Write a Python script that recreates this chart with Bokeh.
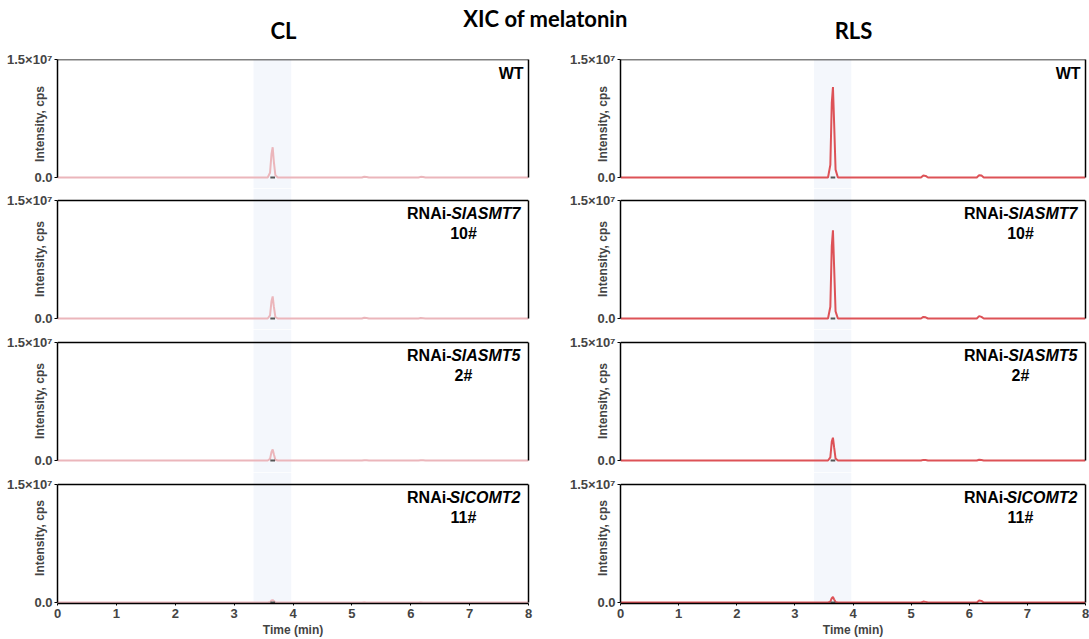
from bokeh.plotting import figure
from bokeh.models import Range1d, FixedTicker, LinearAxis, BoxAnnotation, Span
from bokeh.layouts import gridplot, column
from bokeh.core.properties import value
from bokeh.embed import file_html
from bokeh.resources import INLINE

# ---------------- data ----------------
time_min = [0.00, 3.57, 3.61, 3.635, 3.655, 3.675, 3.70, 3.74,
            5.17, 5.21, 5.25, 5.29, 6.13, 6.17, 6.21, 6.25, 8.00]

CL_WT     = [0, 0, 0.6e6, 3.0e6, 3.85e6, 2.0e6, 0.30e6, 0, 0, 0.10e6, 0.06e6, 0, 0, 0.08e6, 0.06e6, 0, 0]
CL_ASMT7  = [0, 0, 0.4e6, 2.2e6, 2.80e6, 1.5e6, 0.20e6, 0, 0, 0.10e6, 0.05e6, 0, 0, 0.06e6, 0.04e6, 0, 0]
CL_ASMT5  = [0, 0, 0.2e6, 1.1e6, 1.40e6, 0.8e6, 0.10e6, 0, 0, 0.04e6, 0.02e6, 0, 0, 0.03e6, 0.02e6, 0, 0]
CL_COMT2  = [0, 0, 0.05e6, 0.25e6, 0.30e6, 0.18e6, 0.03e6, 0, 0, 0.02e6, 0.01e6, 0, 0, 0.02e6, 0.01e6, 0, 0]
RLS_WT    = [0, 0, 1.6e6, 9.5e6, 11.5e6, 7.0e6, 1.0e6, 0, 0, 0.25e6, 0.20e6, 0, 0, 0.30e6, 0.25e6, 0, 0]
RLS_ASMT7 = [0, 0, 1.5e6, 9.2e6, 11.2e6, 6.6e6, 0.9e6, 0, 0, 0.20e6, 0.15e6, 0, 0, 0.30e6, 0.20e6, 0, 0]
RLS_ASMT5 = [0, 0, 0.4e6, 2.4e6, 2.90e6, 1.7e6, 0.25e6, 0, 0, 0.08e6, 0.05e6, 0, 0, 0.10e6, 0.06e6, 0, 0]
RLS_COMT2 = [0, 0, 0.1e6, 0.55e6, 0.70e6, 0.4e6, 0.06e6, 0, 0, 0.12e6, 0.08e6, 0, 0, 0.25e6, 0.20e6, 0, 0]

# integration baseline mark under the melatonin peak
peak_base_start = [3.615]
peak_base_end = [3.695]
peak_base_y = [0]

# shaded retention window
window_start = 3.33
window_end = 3.97

x_ticks = [0, 1, 2, 3, 4, 5, 6, 7, 8]
y_ticks = [0, 15000000]
y_tick_labels = {0: "0.0", 15000000: "1.5×10⁷"}
X_MAX = 8
Y_MAX = 15000000

column_titles = ["CL", "RLS"]
main_title = "XIC of melatonin"
line1_plain = ["WT", "RNAi-", "RNAi-", "RNAi-"]
line1_italic = ["", "SlASMT7", "SlASMT5", "SlCOMT2"]
line2 = ["", "10#", "2#", "11#"]

series = [[CL_WT, RLS_WT], [CL_ASMT7, RLS_ASMT7], [CL_ASMT5, RLS_ASMT5], [CL_COMT2, RLS_COMT2]]
colors = ["#ebb6bb", "#dd5257"]

# ---------------- layout ----------------
FONT = "Liberation Sans"
frame_w = [471, 465]
border_r = [35, 4]
# (gap above panel, panel height, gap below panel) in px
rows_px = [(0, 118, 11), (12, 118, 11), (13, 118, 12), (12, 118, 1)]
border_top = [14, 0, 0, 0]
border_bottom = [0, 0, 0, 36]
ITALIC_W = 69
LABEL_R = 8


def make_panel(r, c):
    ga, ph, gb = rows_px[r]
    scale = Y_MAX / ph
    p = figure(frame_width=frame_w[c], frame_height=ga + ph + gb,
               min_border_left=57, min_border_right=border_r[c],
               min_border_top=border_top[r], min_border_bottom=border_bottom[r],
               x_range=Range1d(0, X_MAX), y_range=Range1d(-gb * scale, Y_MAX + ga * scale),
               x_axis_location="below" if r == 3 else None,
               output_backend="svg", toolbar_location=None, title=None,
               outline_line_color=None, background_fill_color="white",
               border_fill_color="white")
    p.xgrid.visible = False
    p.ygrid.visible = False

    band = BoxAnnotation(left=window_start, right=window_end, fill_color="#f4f7fc",
                         fill_alpha=1.0, line_color=None, level="underlay")
    p.add_layout(band)

    # y axis
    ya = p.yaxis[0]
    ya.bounds = (0, Y_MAX)
    ya.ticker = FixedTicker(ticks=y_ticks)
    ya.major_label_overrides = y_tick_labels
    ya.axis_label = "Intensity, cps"
    ya.axis_label_text_font = FONT
    ya.axis_label_text_font_style = "bold"
    ya.axis_label_text_font_size = "12px"
    ya.axis_label_standoff = -43
    ya.major_label_text_font = FONT
    ya.major_label_text_font_style = "bold"
    ya.major_label_text_font_size = "13px"
    ya.major_label_standoff = 2
    ya.major_tick_out = 3
    ya.major_tick_in = 0
    ya.minor_tick_out = 0
    ya.minor_tick_in = 0
    ya.axis_line_width = 1.5
    ya.axis_line_color = "black"
    ya.major_tick_line_color = "black"

    # frame: top and right borders
    p.add_layout(Span(location=Y_MAX, dimension="width", line_color="black", line_width=1.5))
    ra = LinearAxis(bounds=(0, Y_MAX), ticker=FixedTicker(ticks=[]),
                    major_tick_out=0, major_tick_in=0, minor_tick_out=0, minor_tick_in=0,
                    major_label_text_font_size="0px", axis_line_width=1.5, axis_line_color="black")
    p.add_layout(ra, "right")

    if r == 3:
        xa = p.xaxis[0]
        xa.ticker = FixedTicker(ticks=x_ticks)
        xa.axis_label = "Time (min)"
        xa.axis_label_text_font = FONT
        xa.axis_label_text_font_style = "bold"
        xa.axis_label_text_font_size = "12px"
        xa.axis_label_standoff = 2
        xa.major_label_text_font = FONT
        xa.major_label_text_font_style = "bold"
        xa.major_label_text_font_size = "13px"
        xa.major_label_standoff = 3
        xa.major_tick_out = 2
        xa.major_tick_in = 0
        xa.minor_tick_out = 0
        xa.minor_tick_in = 0
        xa.axis_line_width = 1.5
        xa.axis_line_color = "black"

    p.line(time_min, series[r][c], line_color=colors[c], line_width=2)
    p.segment(x0=peak_base_start, y0=peak_base_y, x1=peak_base_end, y1=peak_base_y,
              line_color="#555555", line_width=2)

    # panel labels
    common = dict(text_font=value(FONT), text_font_size="16px", text_color="black",
                  text_baseline="top", text_align="right")
    if line1_italic[r]:
        p.text(x=[X_MAX], y=[Y_MAX], text=[line1_italic[r]], x_offset=-LABEL_R, y_offset=4,
               text_font_style="bold italic", **common)
        p.text(x=[X_MAX], y=[Y_MAX], text=[line1_plain[r]], x_offset=-LABEL_R - ITALIC_W,
               y_offset=4, text_font_style="bold", **common)
        c2 = dict(common)
        c2["text_align"] = "center"
        p.text(x=[X_MAX], y=[Y_MAX], text=[line2[r]], x_offset=-LABEL_R - 57, y_offset=24,
               text_font_style="bold", **c2)
    else:
        p.text(x=[X_MAX], y=[Y_MAX], text=[line1_plain[r]], x_offset=-5, y_offset=5,
               text_font_style="bold", **common)
    return p


grid_rows = [[make_panel(r, c) for c in range(2)] for r in range(4)]
grid = gridplot(grid_rows, toolbar_location=None)

header = figure(width=1089, height=45, x_range=Range1d(0, 1089), y_range=Range1d(0, 45),
                output_backend="svg", toolbar_location=None, title=None, min_border=0,
                outline_line_color=None, x_axis_location=None, y_axis_location=None)
header.xgrid.visible = False
header.ygrid.visible = False
header.text(x=[545], y=[27], text=[main_title], text_font=value("Lato"), text_font_style="bold",
            text_font_size="22px", text_align="center", text_baseline="middle", text_color="black")
header.text(x=[283, 853], y=[15, 15], text=column_titles, text_font=value("Lato"),
            text_font_style="bold", text_font_size="22px", text_align="center",
            text_baseline="middle", text_color="black")

layout = column(header, grid)
open("out.html", "w").write(file_html(layout, INLINE))
